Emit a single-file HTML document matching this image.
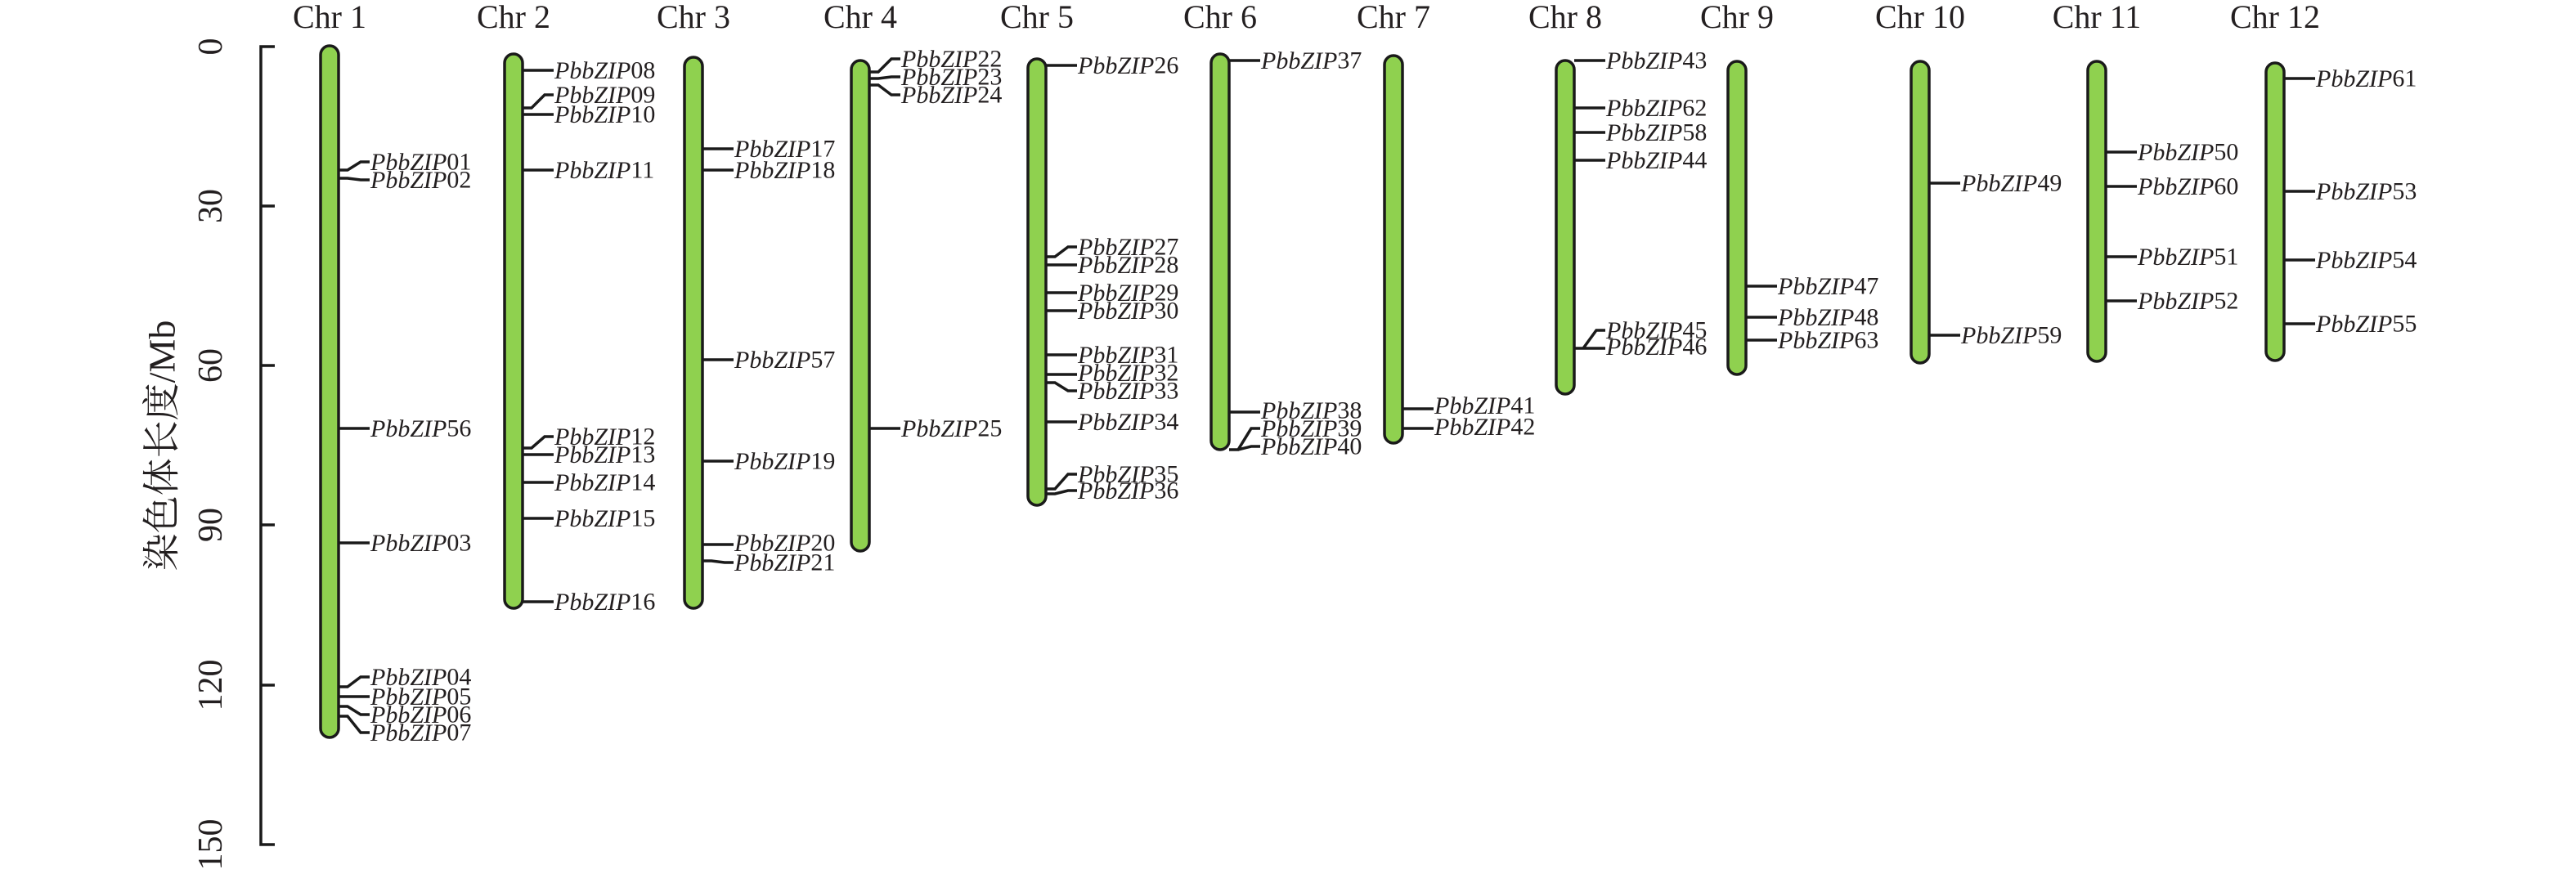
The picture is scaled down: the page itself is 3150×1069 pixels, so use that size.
<!DOCTYPE html>
<html><head><meta charset="utf-8"><style>
html,body{margin:0;padding:0;background:#fff;}
svg{display:block;}
.g{font-family:"Liberation Serif",serif;font-size:30px;fill:#231f20;dominant-baseline:central;}
.g tspan.i{font-style:italic;}
.c{font-family:"Liberation Serif",serif;font-size:40px;fill:#231f20;text-anchor:middle;}
.t{font-family:"Liberation Serif",serif;font-size:40px;fill:#231f20;text-anchor:middle;dominant-baseline:central;}
.bar{fill:#8fd14f;stroke:#1a1a1a;stroke-width:3.5;}
.ln{fill:none;stroke:#1a1a1a;stroke-width:3.5;}
</style></head><body>
<svg width="3150" height="1069" viewBox="0 0 3150 1069" xmlns="http://www.w3.org/2000/svg">
<path class="ln" d="M336 57 H319 V1033 H336 M319 252 H336 M319 447 H336 M319 642 H336 M319 838 H336"/>
<text class="t" style="font-size:42px" transform="translate(258,57) rotate(-90)">0</text>
<text class="t" style="font-size:42px" transform="translate(258,252) rotate(-90)">30</text>
<text class="t" style="font-size:42px" transform="translate(258,447) rotate(-90)">60</text>
<text class="t" style="font-size:42px" transform="translate(258,642) rotate(-90)">90</text>
<text class="t" style="font-size:42px" transform="translate(258,838) rotate(-90)">120</text>
<text class="t" style="font-size:42px" transform="translate(258,1033) rotate(-90)">150</text>
<text class="t" style="font-family:'Liberation Serif','Noto Serif CJK SC',serif;font-size:46px" transform="translate(198,545) rotate(-90)">染色体长度/Mb</text>

<text class="c" x="403" y="34">Chr 1</text>
<text class="c" x="628" y="34">Chr 2</text>
<text class="c" x="848" y="34">Chr 3</text>
<text class="c" x="1052" y="34">Chr 4</text>
<text class="c" x="1268" y="34">Chr 5</text>
<text class="c" x="1492" y="34">Chr 6</text>
<text class="c" x="1704" y="34">Chr 7</text>
<text class="c" x="1914" y="34">Chr 8</text>
<text class="c" x="2124" y="34">Chr 9</text>
<text class="c" x="2348" y="34">Chr 10</text>
<text class="c" x="2564" y="34">Chr 11</text>
<text class="c" x="2782" y="34">Chr 12</text>

<rect class="bar" x="392" y="56" width="22" height="846" rx="11"/>
<rect class="bar" x="617" y="66" width="22" height="678" rx="11"/>
<rect class="bar" x="837" y="70" width="22" height="674" rx="11"/>
<rect class="bar" x="1041" y="74" width="22" height="600" rx="11"/>
<rect class="bar" x="1257" y="72" width="22" height="546" rx="11"/>
<rect class="bar" x="1481" y="66" width="22" height="484" rx="11"/>
<rect class="bar" x="1693" y="68" width="22" height="474" rx="11"/>
<rect class="bar" x="1903" y="74" width="22" height="408" rx="11"/>
<rect class="bar" x="2113" y="75" width="22" height="383" rx="11"/>
<rect class="bar" x="2337" y="75" width="22" height="369" rx="11"/>
<rect class="bar" x="2553" y="75" width="22" height="367" rx="11"/>
<rect class="bar" x="2771" y="77" width="22" height="364" rx="11"/>

<path class="ln" d="
M414 208 H425 L441 198 H452 M414 218 H425 L441 220 H452 M414 524 H452 M414 664 H452
M414 840 H425 L441 828 H452 M414 852 H452 M414 864 H425 L441 874 H452 M414 876 H425 L441 896 H452
M639 86 H677 M639 132 H650 L666 116 H677 M639 140 H677 M639 208 H677
M639 548 H650 L666 534 H677 M639 556 H677 M639 590 H677 M639 634 H677 M639 736 H677
M859 182 H897 M859 208 H897 M859 440 H897 M859 564 H897 M859 666 H897 M859 686 H870 L886 688 H897
M1063 88 H1074 L1090 72 H1101 M1063 96 H1074 L1090 94 H1101 M1063 104 H1074 L1090 116 H1101 M1063 524 H1101
M1279 80 H1317 M1279 314 H1290 L1306 302 H1317 M1279 324 H1317 M1279 358 H1317 M1279 380 H1317
M1279 434 H1317 M1279 458 H1317 M1279 468 H1290 L1306 478 H1317 M1279 516 H1317
M1279 598 H1290 L1306 580 H1317 M1279 604 H1290 L1306 600 H1317
M1503 74 H1541 M1503 504 H1541 M1503 550 H1514 L1530 524 H1541 M1503 550 H1514 L1530 546 H1541
M1715 500 H1753 M1715 524 H1753
M1925 74 H1963 M1925 132 H1963 M1925 162 H1963 M1925 196 H1963 M1925 426 H1936 L1952 404 H1963 M1925 426 H1963
M2135 350 H2173 M2135 388 H2173 M2135 416 H2173
M2359 224 H2397 M2359 410 H2397
M2575 186 H2613 M2575 228 H2613 M2575 314 H2613 M2575 368 H2613
M2793 96 H2831 M2793 234 H2831 M2793 318 H2831 M2793 396 H2831
"/>

<g class="g">
<text x="453" y="198"><tspan class="i">PbbZIP</tspan>01</text>
<text x="453" y="220"><tspan class="i">PbbZIP</tspan>02</text>
<text x="453" y="524"><tspan class="i">PbbZIP</tspan>56</text>
<text x="453" y="664"><tspan class="i">PbbZIP</tspan>03</text>
<text x="453" y="828"><tspan class="i">PbbZIP</tspan>04</text>
<text x="453" y="852"><tspan class="i">PbbZIP</tspan>05</text>
<text x="453" y="874"><tspan class="i">PbbZIP</tspan>06</text>
<text x="453" y="896"><tspan class="i">PbbZIP</tspan>07</text>

<text x="678" y="86"><tspan class="i">PbbZIP</tspan>08</text>
<text x="678" y="116"><tspan class="i">PbbZIP</tspan>09</text>
<text x="678" y="140"><tspan class="i">PbbZIP</tspan>10</text>
<text x="678" y="208"><tspan class="i">PbbZIP</tspan>11</text>
<text x="678" y="534"><tspan class="i">PbbZIP</tspan>12</text>
<text x="678" y="556"><tspan class="i">PbbZIP</tspan>13</text>
<text x="678" y="590"><tspan class="i">PbbZIP</tspan>14</text>
<text x="678" y="634"><tspan class="i">PbbZIP</tspan>15</text>
<text x="678" y="736"><tspan class="i">PbbZIP</tspan>16</text>

<text x="898" y="182"><tspan class="i">PbbZIP</tspan>17</text>
<text x="898" y="208"><tspan class="i">PbbZIP</tspan>18</text>
<text x="898" y="440"><tspan class="i">PbbZIP</tspan>57</text>
<text x="898" y="564"><tspan class="i">PbbZIP</tspan>19</text>
<text x="898" y="664"><tspan class="i">PbbZIP</tspan>20</text>
<text x="898" y="688"><tspan class="i">PbbZIP</tspan>21</text>

<text x="1102" y="72"><tspan class="i">PbbZIP</tspan>22</text>
<text x="1102" y="94"><tspan class="i">PbbZIP</tspan>23</text>
<text x="1102" y="116"><tspan class="i">PbbZIP</tspan>24</text>
<text x="1102" y="524"><tspan class="i">PbbZIP</tspan>25</text>

<text x="1318" y="80"><tspan class="i">PbbZIP</tspan>26</text>
<text x="1318" y="302"><tspan class="i">PbbZIP</tspan>27</text>
<text x="1318" y="324"><tspan class="i">PbbZIP</tspan>28</text>
<text x="1318" y="358"><tspan class="i">PbbZIP</tspan>29</text>
<text x="1318" y="380"><tspan class="i">PbbZIP</tspan>30</text>
<text x="1318" y="434"><tspan class="i">PbbZIP</tspan>31</text>
<text x="1318" y="456"><tspan class="i">PbbZIP</tspan>32</text>
<text x="1318" y="478"><tspan class="i">PbbZIP</tspan>33</text>
<text x="1318" y="516"><tspan class="i">PbbZIP</tspan>34</text>
<text x="1318" y="580"><tspan class="i">PbbZIP</tspan>35</text>
<text x="1318" y="600"><tspan class="i">PbbZIP</tspan>36</text>

<text x="1542" y="74"><tspan class="i">PbbZIP</tspan>37</text>
<text x="1542" y="502"><tspan class="i">PbbZIP</tspan>38</text>
<text x="1542" y="524"><tspan class="i">PbbZIP</tspan>39</text>
<text x="1542" y="546"><tspan class="i">PbbZIP</tspan>40</text>

<text x="1754" y="496"><tspan class="i">PbbZIP</tspan>41</text>
<text x="1754" y="522"><tspan class="i">PbbZIP</tspan>42</text>

<text x="1964" y="74"><tspan class="i">PbbZIP</tspan>43</text>
<text x="1964" y="132"><tspan class="i">PbbZIP</tspan>62</text>
<text x="1964" y="162"><tspan class="i">PbbZIP</tspan>58</text>
<text x="1964" y="196"><tspan class="i">PbbZIP</tspan>44</text>
<text x="1964" y="404"><tspan class="i">PbbZIP</tspan>45</text>
<text x="1964" y="424"><tspan class="i">PbbZIP</tspan>46</text>

<text x="2174" y="350"><tspan class="i">PbbZIP</tspan>47</text>
<text x="2174" y="388"><tspan class="i">PbbZIP</tspan>48</text>
<text x="2174" y="416"><tspan class="i">PbbZIP</tspan>63</text>

<text x="2398" y="224"><tspan class="i">PbbZIP</tspan>49</text>
<text x="2398" y="410"><tspan class="i">PbbZIP</tspan>59</text>

<text x="2614" y="186"><tspan class="i">PbbZIP</tspan>50</text>
<text x="2614" y="228"><tspan class="i">PbbZIP</tspan>60</text>
<text x="2614" y="314"><tspan class="i">PbbZIP</tspan>51</text>
<text x="2614" y="368"><tspan class="i">PbbZIP</tspan>52</text>

<text x="2832" y="96"><tspan class="i">PbbZIP</tspan>61</text>
<text x="2832" y="234"><tspan class="i">PbbZIP</tspan>53</text>
<text x="2832" y="318"><tspan class="i">PbbZIP</tspan>54</text>
<text x="2832" y="396"><tspan class="i">PbbZIP</tspan>55</text>
</g>
</svg>
</body></html>
